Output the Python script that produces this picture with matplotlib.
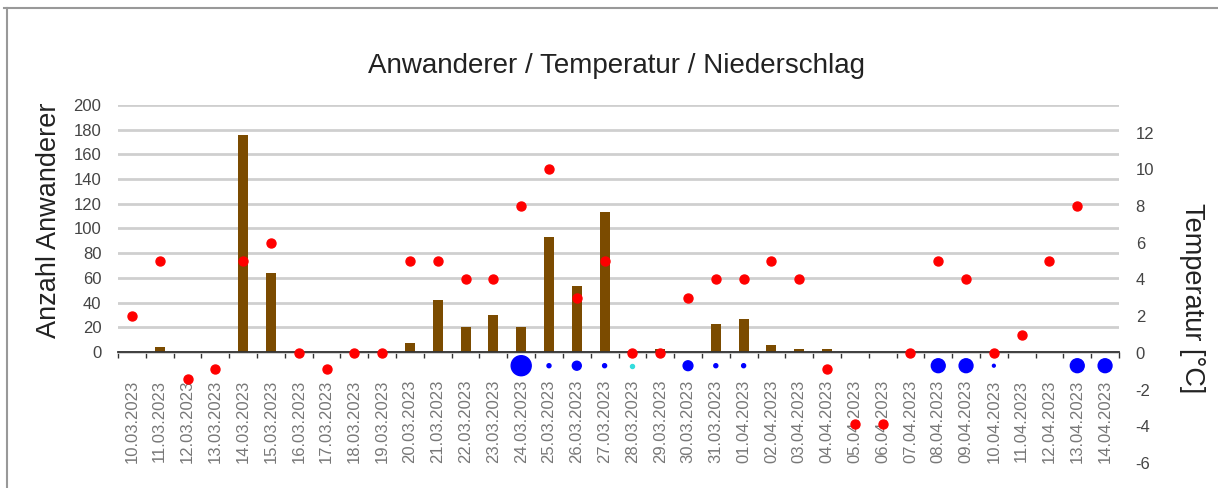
import matplotlib
matplotlib.use("Agg")
import matplotlib.pyplot as plt
import numpy as np

plt.rcParams['font.family'] = ['Liberation Sans', 'DejaVu Sans']
plt.rcParams['axes.unicode_minus'] = False

# Data
dates = ['10.03.2023', '11.03.2023', '12.03.2023', '13.03.2023', '14.03.2023', '15.03.2023',
         '16.03.2023', '17.03.2023', '18.03.2023', '19.03.2023', '20.03.2023', '21.03.2023',
         '22.03.2023', '23.03.2023', '24.03.2023', '25.03.2023', '26.03.2023', '27.03.2023',
         '28.03.2023', '29.03.2023', '30.03.2023', '31.03.2023', '01.04.2023', '02.04.2023',
         '03.04.2023', '04.04.2023', '05.04.2023', '06.04.2023', '07.04.2023', '08.04.2023',
         '09.04.2023', '10.04.2023', '11.04.2023', '12.04.2023', '13.04.2023', '14.04.2023']
anwanderer = [0, 4, 0, 0, 176, 64, 0, 0, 0, 0, 7, 42, 20, 30, 20, 93, 53, 113,
              1, 2, 0, 23, 27, 6, 2, 2, 0, 0, 0, 0, 0, 0, 0, 0, 0, 0]
temperatur = [2, 5, -1.4, -0.9, 5, 6, 0, -0.9, 0, 0, 5, 5, 4, 4, 8, 10, 3, 5,
              0, 0, 3, 4, 4, 5, 4, -0.9, -3.9, -3.9, 0, 5, 4, 0, 1, 5, 8, np.nan]
# Niederschlag (mm), Regen und Schnee
regen = [0, 0, 0, 0, 0, 0, 0, 0, 0, 0, 0, 0, 0, 0, 25, 1, 5, 1,
         0, 0, 6, 1, 1, 0, 0, 0, 0, 0, 0, 12, 12, 0.5, 0, 0, 12, 12]
schnee = [0, 0, 0, 0, 0, 0, 0, 0, 0, 0, 0, 0, 0, 0, 0, 0, 0, 0,
          1, 0, 0, 0, 0, 0, 0, 0, 0, 0, 0, 0, 0, 0, 0, 0, 0, 0]

x = np.arange(len(dates))
regen = np.array(regen, dtype=float)
schnee = np.array(schnee, dtype=float)

fig, ax = plt.subplots(figsize=(12.18, 4.88), dpi=100)
fig.subplots_adjust(left=0.0969, right=0.9187, bottom=0.0512, top=0.7848)

# Bars: Anwanderer
ax.bar(x, anwanderer, width=0.36, color='#7b4b00', zorder=2)
ax.set_xlim(-0.5, len(dates) - 0.5)
ax.set_ylim(-90, 200)
ax.set_yticks(range(0, 201, 20))
ax.set_axisbelow(True)
ax.yaxis.grid(True, color='#cfcfcf', linewidth=2)
ax.tick_params(axis='y', length=0, pad=12, labelsize=12, labelcolor='#444444')

for s in ['top', 'right', 'left']:
    ax.spines[s].set_visible(False)
ax.spines['bottom'].set_position(('data', 0))
ax.spines['bottom'].set_color('#333333')
ax.spines['bottom'].set_linewidth(1.3)

ax.set_xticks(x)
ax.set_xticklabels(dates, rotation=90)
ax.set_xticks(np.arange(-0.5, len(dates), 1), minor=True)
ax.tick_params(axis='x', which='major', length=0, pad=20, labelsize=12, labelcolor='#777777')
ax.tick_params(axis='x', which='minor', length=4, width=1, color='#333333')

# Temperature + precipitation on right axis
ax2 = ax.twinx()
ax2.set_ylim(-6, 13.5)
ax2.set_yticks(range(-6, 13, 2))
ax2.tick_params(axis='y', length=0, pad=12, labelsize=12, labelcolor='#444444')
for s in ax2.spines.values():
    s.set_visible(False)

ax2.scatter(x, temperatur, s=42, color='#ff0000', zorder=4)
m = regen > 0
ax2.scatter(x[m], np.full(m.sum(), -0.7), s=regen[m] * 8.3, color='#0000ff', zorder=4)
m = schnee > 0
ax2.scatter(x[m], np.full(m.sum(), -0.7), s=schnee[m] * 8.3, color='#33dddd', zorder=4)

# Titles
fig.text(0.506, 0.865, 'Anwanderer / Temperatur / Niederschlag', ha='center', va='center',
         fontsize=20, color='#222222')
fig.text(0.0402, 0.549, 'Anzahl Anwanderer', rotation=90, ha='center', va='center',
         fontsize=19.5, color='#222222')
fig.text(0.9787, 0.390, 'Temperatur [°C]', rotation=270, ha='center', va='center',
         fontsize=19.5, color='#222222')

# Frame lines
fig.add_artist(plt.Line2D([4 / 1218, 1], [1 - 8 / 488, 1 - 8 / 488], transform=fig.transFigure,
                          color='#999999', linewidth=1.5))
fig.add_artist(plt.Line2D([7 / 1218, 7 / 1218], [0, 1 - 8 / 488], transform=fig.transFigure,
                          color='#999999', linewidth=1.5))

fig.savefig('out.png', dpi=100)
